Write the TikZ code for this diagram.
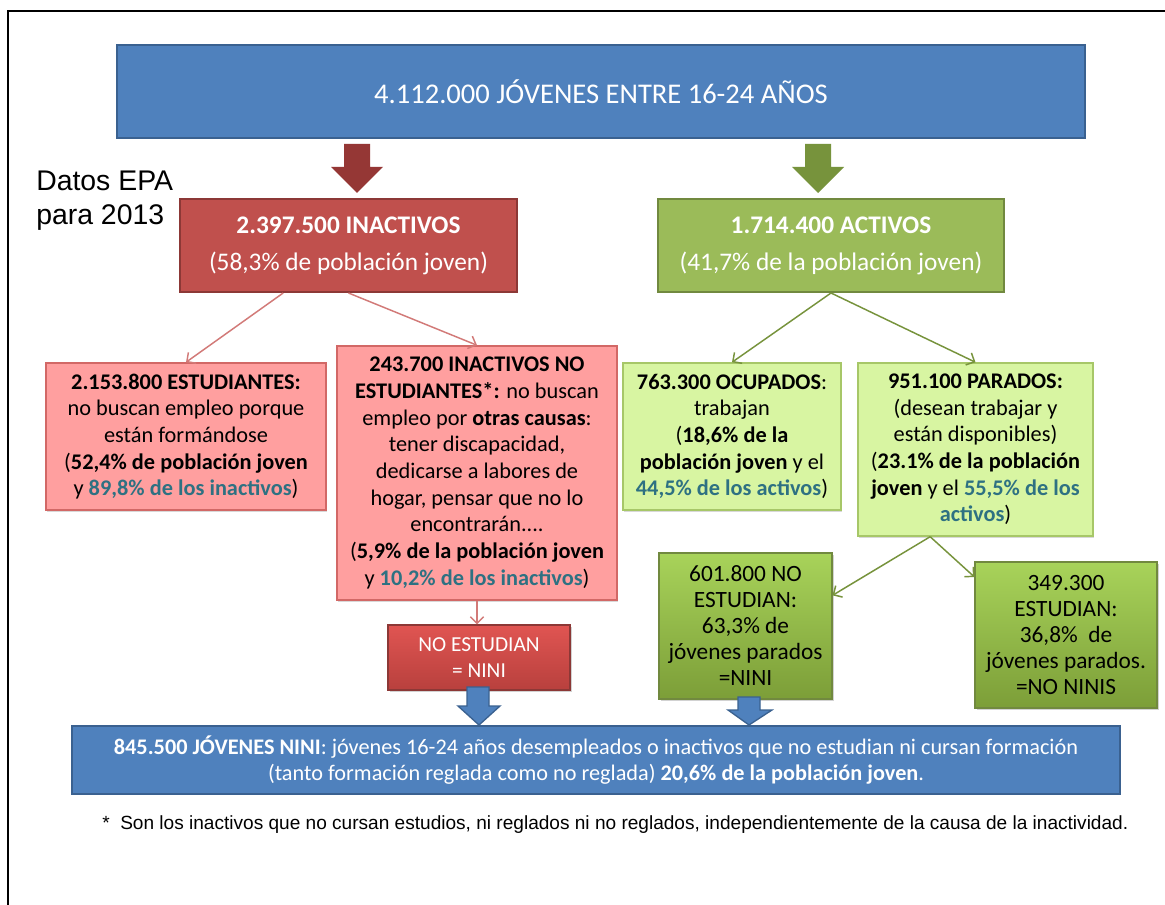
\documentclass[tikz,border=0pt]{standalone}
\usepackage{fontspec}
\setmainfont{Carlito}
\newfontfamily\arialfont{Liberation Sans}
\usetikzlibrary{arrows.meta,shadows}
\definecolor{topblue}{HTML}{4F81BD}
\definecolor{topblueline}{HTML}{3A6190}
\definecolor{inacred}{HTML}{C0504D}
\definecolor{inacline}{HTML}{8C3836}
\definecolor{arrowred}{HTML}{953735}
\definecolor{actgreen}{HTML}{9BBB59}
\definecolor{actline}{HTML}{71893F}
\definecolor{arrowgreen}{HTML}{77933C}
\definecolor{lightred}{HTML}{FF9F9F}
\definecolor{lightredline}{HTML}{D26866}
\definecolor{linkred}{HTML}{D27A78}
\definecolor{lightgreen}{HTML}{D8F5A2}
\definecolor{lightgreenline}{HTML}{A7C768}
\definecolor{pctteal}{HTML}{2E7182}
\definecolor{ninitop}{HTML}{E05552}
\definecolor{ninibottom}{HTML}{B8403D}
\definecolor{gradtop}{HTML}{A8D35A}
\definecolor{gradbottom}{HTML}{7C9E38}
\begin{document}
\begin{tikzpicture}[x=0.75pt,y=-0.75pt,
    bigbox/.style={draw,line width=1.5pt,align=center,inner sep=0pt,text=white},
    lightbox/.style={draw,line width=1.1pt,align=center,inner sep=0pt,
      font=\fontsize{16.75}{20}\selectfont,
      drop shadow={shadow xshift=1pt,shadow yshift=-1.5pt,opacity=0.3}},
    gradbox/.style={draw,line width=0.8pt,align=center,inner sep=0pt,
      font=\fontsize{17.5}{19.5}\selectfont,
      drop shadow={shadow xshift=1.5pt,shadow yshift=-1.5pt,opacity=0.35}},
    redlink/.style={draw=linkred,line width=1.1pt,-{Straight Barb[length=5pt,width=10pt]}},
    greenlink/.style={draw=arrowgreen,line width=1.1pt,-{Straight Barb[length=5pt,width=10pt]}},
    blockarrow/.style={draw=topblueline,fill=topblue,line width=1pt}]
  \fill[white] (0,0) rectangle (1165,905);
  \useasboundingbox (0,0) rectangle (1165,905);
  \draw[line width=1.5pt] (8,905) -- (8,11) -- (1165,11);

  \node[bigbox,fill=topblue,draw=topblueline,minimum width=726pt,minimum height=69.75pt,
    font=\fontsize{21.4}{24}\selectfont] (total) at (601,91.5) {4.112.000 JÓVENES ENTRE 16-24 AÑOS};
  \node[anchor=north west,align=left,inner sep=0pt,font=\arialfont\fontsize{21.3}{25}\selectfont]
    (datos) at (36,171) {Datos EPA\\para 2013};

  \begin{scope}[every node/.style={bigbox,minimum height=69.75pt,font=\fontsize{19}{27.75}\selectfont}]
    \node[fill=inacred,draw=inacline,minimum width=252.75pt] (inact) at (348.5,245.5)
      {\textbf{2.397.500 INACTIVOS}\\(58,3\% de población joven)};
    \node[fill=actgreen,draw=actline,minimum width=259.5pt] (activ) at (831,245.5)
      {\textbf{1.714.400 ACTIVOS}\\(41,7\% de la población joven)};
  \end{scope}

  \fill[arrowred] (344,144) -- (370,144) -- (370,167) -- (383,167) -- (357,193) -- (331,167) -- (344,167) -- cycle;
  \fill[arrowgreen] (805,144) -- (831,144) -- (831,167) -- (844,167) -- (818,193) -- (792,167) -- (805,167) -- cycle;

  \begin{scope}[every node/.style={lightbox,fill=lightred,draw=lightredline}]
    \node[minimum width=210pt,minimum height=110.25pt] (estud) at (186,436.5)
      {\textbf{2.153.800 ESTUDIANTES:}\\no buscan empleo porque\\están formándose\\
       (\textbf{52,4\% de población joven}\\y \textbf{\color{pctteal}89,8\% de los inactivos})};
    \node[minimum width=210pt,minimum height=190.5pt] (noest) at (477,473)
      {\textbf{243.700 INACTIVOS NO}\\\textbf{ESTUDIANTES*:} no buscan\\empleo por \textbf{otras causas}:\\
       tener discapacidad,\\dedicarse a labores de\\hogar, pensar que no lo\\encontrarán....\\
       (\textbf{5,9\% de la población joven}\\y \textbf{\color{pctteal}10,2\% de los inactivos})};
  \end{scope}

  \begin{scope}[every node/.style={lightbox,fill=lightgreen,draw=lightgreenline}]
    \node[minimum width=163.5pt,minimum height=110.25pt] (ocup) at (732,436.5)
      {\textbf{763.300 OCUPADOS}:\\trabajan\\(\textbf{18,6\% de la}\\\textbf{población joven} y el\\
       \textbf{\color{pctteal}44,5\% de los activos})};
    \node[minimum width=176.25pt,minimum height=129.75pt] (parad) at (975.5,449.5)
      {\textbf{951.100 PARADOS:}\\(desean trabajar y\\están disponibles)\\(\textbf{23.1\% de la población}\\
       \textbf{joven} y el \textbf{\color{pctteal}55,5\% de los}\\\textbf{\color{pctteal}activos})};
  \end{scope}

  \node[gradbox,draw=inacline,top color=ninitop,bottom color=ninibottom,text=white,
    font=\fontsize{16}{20}\selectfont,minimum width=136.5pt,minimum height=48.75pt] (nini) at (479,657.5)
    {NO ESTUDIAN\\= NINI};
  \begin{scope}[every node/.style={gradbox,draw=actline,top color=gradtop,
      bottom color=gradbottom,minimum width=129.75pt,minimum height=109.5pt}]
    \node (ninig) at (745.5,626) {601.800 NO\\ESTUDIAN:\\63,3\% de\\jóvenes parados\\=NINI};
    \node[minimum width=136.5pt] (estg) at (1066,635) {349.300\\ESTUDIAN:\\36,8\%~~de\\jóvenes parados.\\=NO NINIS};
  \end{scope}

  \node[bigbox,fill=topblue,draw=topblueline,minimum width=786pt,minimum height=51pt,
    font=\fontsize{16.7}{20}\selectfont] (nininet) at (596,760)
    {\textbf{845.500 JÓVENES NINI}: jóvenes 16-24 años desempleados o inactivos que no estudian ni cursan formación\\
     (tanto formación reglada como no reglada) \textbf{20,6\% de la población joven}.};

  \filldraw[blockarrow] (467,687) -- (489,687) -- (489,706) -- (500,706) -- (479,725) -- (458,706) -- (467,706) -- cycle;
  \filldraw[blockarrow] (738,697) -- (760,697) -- (760,710) -- (772,710) -- (749,725) -- (728,710) -- (738,710) -- cycle;

  \draw[redlink] ([xshift=-49pt]inact.south) -- (estud.north);
  \draw[redlink] (inact.south) -- (noest.north);
  \draw[redlink] (noest.south) -- (noest.south |- nini.north);
  \draw[greenlink] (activ.south) -- (ocup.north);
  \draw[greenlink] (activ.south) -- (parad.north);
  \draw[greenlink] ([xshift=-34pt]parad.south) -- ([yshift=23pt]ninig.east);
  \draw[greenlink] ([xshift=-34pt]parad.south) -- ([yshift=43.5pt]estg.west);

  \node[anchor=base west,inner sep=0pt,font=\arialfont\fontsize{14.3}{16}\selectfont] (nota) at (102,829)
    {*~~Son los inactivos que no cursan estudios, ni reglados ni no reglados, independientemente de la causa de la inactividad.};
\end{tikzpicture}
\end{document}
